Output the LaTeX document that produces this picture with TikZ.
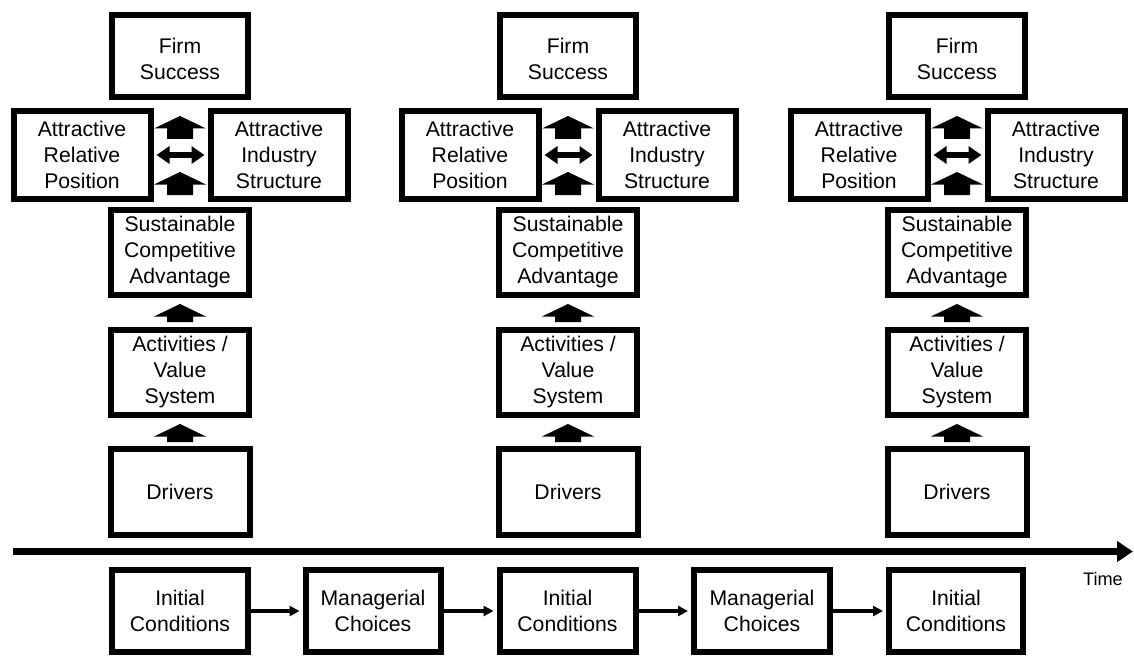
\documentclass[tikz,border=0pt]{standalone}
\usepackage{fontspec}
\setmainfont{Liberation Sans}
\usetikzlibrary{arrows.meta,calc}

% Filled block arrow pointing up: tip at #1 shifted by #2, tail at #3 shifted by #4
\newcommand\upblock[4]{%
  \fill ([shift={(0,#2)}]#1) -- ([shift={(26,#2+12.5)}]#1) -- ([shift={(13,#2+12.5)}]#1)
     -- ([shift={(13,#4)}]#3) -- ([shift={(-13,#4)}]#3)
     -- ([shift={(-13,#2+12.5)}]#1) -- ([shift={(-26,#2+12.5)}]#1) -- cycle;}

\begin{document}
\begin{tikzpicture}[x=0.75pt,y=-0.75pt,
  box/.style 2 args={draw, line width=4.5pt,
    minimum width={(#1-6)*0.75pt}, minimum height={(#2-6)*0.75pt},
    inner sep=0pt, align=center, font=\fontsize{15.9}{19.5}\selectfont},
  dbl/.style={line width=3.9pt,
    {Triangle[length=9.75pt,width=12.75pt]}-{Triangle[length=9.75pt,width=12.75pt]}},
  flow/.style={line width=2.4pt, -{Triangle[length=7.5pt,width=7.5pt]}, shorten >=2.25pt},
  timeline/.style={line width=5.25pt, -{Triangle[length=12pt,width=15pt]}},
]
\useasboundingbox (0,0) rectangle (1134,656);

% three snapshots of the strategy chain
\foreach \X [count=\i] in {180,568,957} {
  \node[box={142}{88}] (fs\i)  at (\X,56)      {\rule{0pt}{16pt}Firm\\Success};
  \node[box={143}{94}] (rp\i)  at (\X-98,155)  {Attractive\\Relative\\Position};
  \node[box={143}{94}] (is\i)  at (\X+99,155)  {Attractive\\Industry\\Structure};
  \node[box={144}{91}] (sca\i) at (\X,252.5)   {Sustainable\\Competitive\\Advantage};
  \node[box={144}{91}] (act\i) at (\X,372.5)   {Activities /\\Value\\System};
  \node[box={145}{92}] (drv\i) at (\X,492)     {Drivers};

  \upblock{fs\i.south}{16}{fs\i.south}{39}
  \upblock{sca\i.north}{-35}{sca\i.north}{-12}
  \upblock{sca\i.south}{6}{act\i.north}{-5}
  \upblock{act\i.south}{6}{drv\i.north}{-4}
  \draw[dbl] ([xshift=2.25pt]rp\i.east) -- ([xshift=-2.25pt]is\i.west);
}

% time axis
\coordinate (t0) at (13,551.5);
\coordinate (t1) at (1133,551.5);
\draw[timeline] (t0) -- (t1);
\node[font=\fontsize{13.6}{16}\selectfont] (time) at (1103,579) {Time};

% sequence of conditions and choices
\node[box={142}{88}] (ic1) at (180,611)   {Initial\\Conditions};
\node[box={141}{88}] (mc1) at (373,611)   {Managerial\\Choices};
\node[box={142}{88}] (ic2) at (567.5,611) {Initial\\Conditions};
\node[box={142}{88}] (mc2) at (762,611)   {Managerial\\Choices};
\node[box={140}{88}] (ic3) at (956,611)   {Initial\\Conditions};

\draw[flow] (ic1.east) -- (mc1.west);
\draw[flow] (mc1.east) -- (ic2.west);
\draw[flow] (ic2.east) -- (mc2.west);
\draw[flow] (mc2.east) -- (ic3.west);
\end{tikzpicture}
\end{document}
